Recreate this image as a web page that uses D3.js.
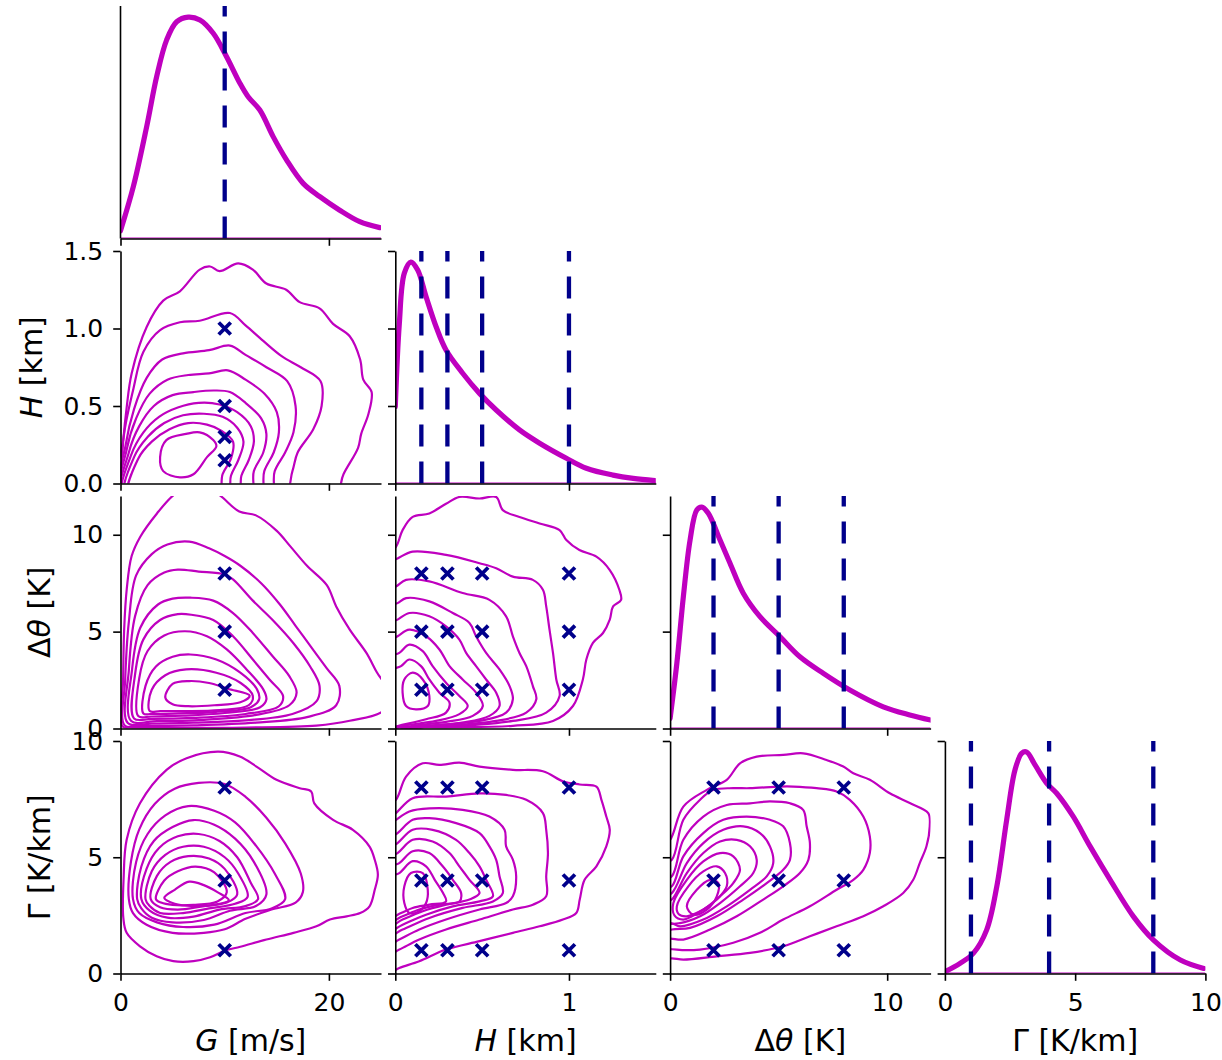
<!DOCTYPE html>
<html><head><meta charset="utf-8">
<script src="https://cdn.jsdelivr.net/npm/d3@7"></script>
<style>body{margin:0;background:#fff} svg text{font-family:"DejaVu Sans",sans-serif;}</style>
</head><body><svg id="chart" width="1222" height="1060"></svg>
<script>
// ---------------- data ----------------
const vars = ["G", "H", "dT", "Gm"];
const domainG = [0, 25], domainH = [0, 1.5], domainDT = [0, 12], domainGm = [0, 10];
const xTicksG = [0, 20], xTicksH = [0, 1], xTicksDT = [0, 10], xTicksGm = [0, 5, 10];
const xLabelsG = ["0", "20"], xLabelsH = ["0", "1"], xLabelsDT = ["0", "10"], xLabelsGm = ["0", "5", "10"];
const yTicksH = [0, 0.5, 1.0, 1.5], yTicksDT = [0, 5, 10], yTicksGm = [0, 5, 10];
const yLabelsH = ["0.0", "0.5", "1.0", "1.5"], yLabelsDT = ["0", "5", "10"], yLabelsGm = ["0", "5", "10"];
const axisTitleG = [["G", true], [" [m/s]", false]];
const axisTitleH = [["H", true], [" [km]", false]];
const axisTitleDT = [["Δ", false], ["θ", true], [" [K]", false]];
const axisTitleGm = [["Γ [K/km]", false]];

// sampled parameter values (crosses / dashed lines)
const markG = [10];
const markH = [0.15, 0.3, 0.5, 1.0];
const markDT = [2, 5, 8];
const markGm = [1, 4, 8];

// 1-D densities (relative, peak = 1)
const diagG = [[0,0.035],[1.23,0.234],[2.51,0.505],[3.47,0.731],[4.43,0.897],[5.39,0.979],[6.5,1.0],[7.62,0.987],[8.9,0.927],[10.18,0.821],[11.46,0.701],[12.25,0.64],[13.37,0.58],[14.65,0.46],[15.93,0.355],[17.53,0.249],[19.13,0.189],[21.0,0.129],[22.96,0.076],[24.88,0.049]];
const diagH = [[0,0.347],[0.023,0.72],[0.052,0.95],[0.09,1.0],[0.129,0.964],[0.177,0.844],[0.235,0.708],[0.292,0.603],[0.388,0.498],[0.485,0.407],[0.581,0.332],[0.715,0.242],[0.831,0.182],[0.985,0.114],[1.1,0.069],[1.254,0.038],[1.37,0.023],[1.495,0.013]];
const diagDT = [[0,0.046],[0.31,0.294],[0.61,0.595],[0.92,0.851],[1.23,0.987],[1.46,1.0],[1.76,0.972],[2.3,0.851],[2.76,0.746],[3.37,0.611],[4.14,0.505],[5.06,0.415],[5.98,0.324],[7.06,0.249],[8.28,0.174],[9.82,0.098],[11.04,0.061],[12.0,0.038]];
const diagGm = [[0,0.008],[0.58,0.046],[1.09,0.091],[1.6,0.196],[1.99,0.392],[2.37,0.693],[2.69,0.919],[2.95,0.995],[3.14,1.0],[3.46,0.942],[3.91,0.859],[4.29,0.814],[4.93,0.708],[5.58,0.573],[6.35,0.422],[7.24,0.257],[8.01,0.151],[9.04,0.061],[9.94,0.023]];

// 2-D density contours (outer -> inner)
const contoursGH = [
 [[0,-0.1],[0.05,0.05],[0.27,0.28],[0.59,0.49],[1.07,0.71],[2.51,1.01],[4.1,1.18],[5.7,1.24],[7.6,1.38],[8.6,1.40],[9.5,1.37],[11.3,1.42],[12.7,1.38],[14.0,1.29],[15.9,1.25],[17.2,1.17],[19.1,1.13],[20.4,1.03],[22.0,0.95],[23.0,0.80],[23.3,0.67],[24.1,0.59],[23.8,0.45],[23.1,0.32],[22.8,0.23],[21.4,0.06],[20.4,-0.1]],
 [[0.05,-0.1],[0.3,0.3],[1.2,0.6],[2.2,0.85],[3.8,0.99],[5.7,1.04],[7.6,1.05],[10.5,1.1],[12,1.02],[13.7,0.92],[15.5,0.82],[17.3,0.75],[19.2,0.66],[19.3,0.5],[18.5,0.35],[17,0.2],[16.5,0.08],[15.5,-0.1]],
 [[0.1,-0.1],[0.5,0.25],[1.3,0.48],[2.5,0.68],[4,0.8],[6,0.84],[8.5,0.86],[10.5,0.89],[12,0.83],[14,0.75],[16,0.66],[16.8,0.5],[16.6,0.33],[15.8,0.2],[14.8,0.08],[14.3,-0.1]],
 [[0.15,-0.1],[0.6,0.22],[1.5,0.42],[2.8,0.58],[4.5,0.67],[6.5,0.7],[8.5,0.71],[10.3,0.73],[12,0.67],[13.8,0.58],[15,0.46],[15.2,0.33],[14.7,0.2],[13.8,0.08],[13.3,-0.1]],
 [[0.2,-0.1],[0.8,0.2],[1.8,0.37],[3.2,0.5],[5,0.57],[7,0.59],[9,0.6],[10.5,0.59],[12,0.52],[13.5,0.42],[14,0.32],[13.7,0.2],[12.8,0.08],[12.4,-0.1]],
 [[0.3,-0.1],[1.0,0.18],[2.2,0.33],[3.7,0.43],[5.5,0.49],[7.5,0.52],[9.5,0.51],[11.2,0.46],[12.5,0.37],[12.8,0.27],[12.3,0.15],[11.6,0.05],[11.2,-0.1]],
 [[0.5,-0.1],[1.3,0.17],[2.6,0.3],[4.2,0.39],[6,0.44],[8,0.45],[9.8,0.43],[11.2,0.36],[11.8,0.27],[11.3,0.15],[10.6,0.05],[10.2,-0.1]],
 [[0.8,-0.1],[1.7,0.16],[3,0.27],[4.7,0.35],[6.5,0.39],[8.3,0.38],[9.7,0.34],[10.8,0.27],[10.6,0.16],[9.8,0.06],[9.3,-0.1]],
 [[3.8,0.17],[4.4,0.28],[6.3,0.32],[7.6,0.33],[8.9,0.28],[9.2,0.24],[8.3,0.17],[7,0.06],[5.7,0.04],[4.1,0.08]]
];
const contoursGDT = [
 [[0.2,0.1],[0.25,2.5],[0.35,5.1],[0.6,7.2],[1.07,8.9],[1.9,9.9],[3.5,11.1],[5.1,12.05],[7.3,12.8],[9.5,12.05],[11.4,11.2],[13,11.0],[15,10.2],[16.3,9.4],[17.9,8.4],[19.8,7.4],[20.7,6.3],[22,5.1],[23.6,3.9],[24.6,2.9],[25.8,1.8],[25.2,0.9],[22,0.4],[18.8,0.15],[12,0.05],[5,0.03],[1,0.04]],
 [[0.4,0.15],[0.45,2.5],[0.8,5.5],[1.5,7.9],[3.0,9.0],[4.5,9.5],[6.6,9.65],[8.5,9.3],[10,8.9],[11.5,8.4],[13.5,7.5],[15.3,6.4],[16.8,5.3],[18.3,4.2],[19.8,3.1],[21,2.2],[20.7,1.2],[18,0.6],[13,0.3],[7,0.16],[2,0.12]],
 [[0.7,0.28],[0.8,3],[1.4,5.8],[2.6,7.4],[4.2,8.05],[5.5,8.2],[7.5,8.1],[10,7.95],[10.8,7.7],[12.7,6.6],[14.6,5.6],[16.6,4.4],[18.2,3.2],[19.1,2.2],[18.8,1.4],[16.5,0.75],[12,0.42],[7,0.3],[3,0.25]],
 [[1.0,0.4],[1.1,3],[1.9,5.2],[3.6,6.4],[5,6.7],[6.7,6.75],[8.9,6.6],[10.8,5.96],[12.7,4.93],[14.6,3.73],[16.2,2.7],[16.9,1.85],[16.2,1.2],[13,0.7],[8,0.45],[3.5,0.38]],
 [[1.3,0.52],[1.4,2.8],[2.2,4.6],[3.8,5.6],[5.5,5.9],[6.8,5.87],[8.9,5.6],[10.8,4.76],[12.7,3.56],[14.3,2.53],[15.6,1.68],[15.2,1.15],[12,0.75],[7,0.55],[3,0.5]],
 [[1.7,0.64],[1.8,2.6],[2.6,4.0],[4.2,4.8],[6.2,5.02],[8.3,4.76],[10.2,4.08],[12.1,3.05],[13.7,2.02],[14.0,1.5],[13.4,1.1],[10,0.8],[6,0.66],[3,0.62]],
 [[2.2,0.77],[2.4,2.2],[3.4,3.2],[5,3.7],[6.7,3.82],[9.2,3.56],[11.5,2.88],[13.1,2.02],[13.3,1.5],[12.5,1.1],[9,0.85],[5.5,0.78],[3,0.75]],
 [[2.8,0.9],[3.0,2.0],[4.3,2.75],[6.3,3.05],[9.2,2.88],[11.5,2.36],[12.7,1.68],[12.3,1.2],[9.5,0.95],[6,0.9],[3.8,0.9]],
 [[4.3,1.6],[5,2.3],[6.6,2.45],[8.5,2.35],[10.3,2.05],[12.4,1.7],[11.5,1.35],[9,1.2],[6.5,1.15],[5,1.25]]
];
const contoursGGm = [
 [[0.27,2.4],[0.3,4.1],[0.59,5.75],[1.87,7.32],[4.42,8.76],[6.34,9.26],[9.38,9.54],[11.45,9.33],[13.05,8.9],[14.97,8.33],[17.2,7.97],[18.3,7.83],[18.6,7.32],[20.4,6.61],[22.3,6.18],[23.9,5.46],[24.4,4.89],[24.7,4.25],[24.4,3.6],[23.9,2.89],[23.0,2.6],[21.7,2.46],[20.1,2.32],[18.8,2.03],[16.6,1.75],[14.0,1.46],[11.5,1.15],[10.0,0.98],[8.6,0.7],[7.0,0.53],[5.06,0.53],[3.47,0.74],[1.87,1.17],[0.59,1.75]],
 [[0.8,3.2],[1.0,4.8],[1.8,6.2],[3.3,7.3],[5.2,7.95],[7.5,8.2],[10,8.15],[12,7.6],[14,6.7],[15.8,5.6],[17.3,4.3],[17.5,3.5],[16.8,3.05],[14.5,2.75],[12,2.35],[10,1.9],[8,1.75],[5,1.75],[2.5,2.1],[1.2,2.6]],
 [[1.2,3.2],[1.5,4.8],[2.6,6.0],[4.3,6.8],[6.5,7.2],[9,7.0],[11,6.5],[13,5.5],[14.8,4.3],[15.8,3.2],[14.5,2.8],[12,2.6],[9,2.1],[6,2.0],[3.5,2.2],[1.8,2.6]],
 [[1.6,3.2],[2.0,4.6],[3.2,5.7],[5,6.3],[7,6.6],[9,6.4],[11,5.8],[12.8,4.8],[14,3.4],[13,2.9],[10.5,2.7],[8,2.3],[5,2.2],[3,2.4],[2,2.8]],
 [[2.0,3.2],[2.5,4.5],[3.7,5.4],[5.5,5.9],[7.5,6.0],[9.5,5.7],[11.2,5.0],[12.5,3.9],[13.2,3.2],[12,2.9],[9.5,2.75],[7,2.45],[4.5,2.4],[2.8,2.7]],
 [[2.4,3.2],[3.0,4.4],[4.3,5.1],[6,5.45],[8,5.45],[10,5.0],[11.3,4.3],[12.2,3.3],[11,3.0],[8.5,2.8],[6,2.6],[3.8,2.6],[2.8,2.9]],
 [[2.9,3.2],[3.5,4.2],[4.8,4.8],[6.5,5.05],[8.5,4.95],[10,4.5],[11.2,3.4],[10.2,3.05],[8,2.9],[5.5,2.75],[3.8,2.85]],
 [[3.4,3.2],[4.2,4.0],[5.5,4.4],[7.2,4.6],[9,4.35],[10.2,3.5],[9.3,3.1],[7,2.95],[5,2.95],[3.9,3.05]],
 [[4.2,3.25],[5.2,3.6],[6.6,3.95],[8,3.8],[9.3,3.5],[10.4,3.15],[9,2.95],[7,2.9],[5.2,3.0]]
];
const contoursHDT = [
 [[-0.05,-0.3],[-0.05,9.0],[0.004,9.38],[0.042,10.24],[0.1,10.92],[0.196,11.1],[0.292,11.6],[0.369,11.95],[0.485,11.87],[0.581,11.95],[0.619,11.27],[0.715,10.92],[0.831,10.58],[0.946,10.24],[0.985,9.73],[1.06,9.21],[1.158,8.87],[1.235,8.18],[1.29,7.16],[1.3,6.64],[1.254,6.3],[1.235,5.62],[1.196,4.93],[1.138,4.42],[1.1,3.56],[1.08,2.53],[1.023,1.16],[0.908,0.39],[0.677,0.14],[0.29,0.05],[0.05,0.0]],
 [[-0.05,-0.2],[-0.05,8.5],[0.013,8.78],[0.1,9.13],[0.292,8.96],[0.485,8.53],[0.581,8.27],[0.677,7.84],[0.792,7.67],[0.85,7.16],[0.869,6.3],[0.888,5.1],[0.908,3.9],[0.927,2.53],[0.946,1.68],[0.869,0.82],[0.677,0.39],[0.388,0.14],[0.1,0.05]],
 [[-0.05,-0.2],[-0.05,7.1],[0.004,7.33],[0.062,7.67],[0.196,7.59],[0.388,6.99],[0.542,6.64],[0.638,5.79],[0.677,4.76],[0.715,3.9],[0.754,3.22],[0.792,2.19],[0.812,1.51],[0.754,0.82],[0.581,0.39],[0.292,0.14],[0.023,0.05]],
 [[-0.05,-0.2],[-0.05,6.2],[0.013,6.47],[0.062,6.73],[0.196,6.56],[0.331,5.96],[0.427,5.45],[0.465,4.76],[0.523,3.9],[0.6,3.05],[0.658,2.19],[0.677,1.51],[0.638,0.82],[0.485,0.39],[0.196,0.14]],
 [[-0.05,-0.2],[-0.05,5.3],[0.013,5.62],[0.081,5.96],[0.196,5.79],[0.292,5.27],[0.369,4.59],[0.408,3.9],[0.465,3.22],[0.523,2.53],[0.581,1.85],[0.6,1.16],[0.542,0.65],[0.388,0.31],[0.138,0.1]],
 [[-0.05,-0.1],[-0.05,4.4],[0.013,4.76],[0.081,5.1],[0.177,4.76],[0.254,4.08],[0.312,3.22],[0.388,2.53],[0.465,1.85],[0.504,1.16],[0.446,0.65],[0.292,0.34],[0.1,0.14]],
 [[-0.05,0.0],[-0.05,3.6],[0.023,3.9],[0.081,4.33],[0.158,3.99],[0.215,3.22],[0.292,2.36],[0.369,1.68],[0.417,1.16],[0.369,0.74],[0.235,0.39],[0.062,0.17]],
 [[-0.04,0.1],[-0.04,2.9],[0.033,3.22],[0.081,3.56],[0.148,3.22],[0.196,2.53],[0.254,1.85],[0.312,1.34],[0.292,0.82],[0.177,0.48],[0.052,0.22]],
 [[0.052,2.53],[0.1,2.88],[0.158,2.53],[0.196,1.68],[0.187,1.16],[0.119,0.99],[0.062,1.16],[0.042,1.85]]
];
const contoursHGm = [
 [[-0.05,0.0],[-0.05,7.2],[0.004,7.47],[0.062,8.47],[0.158,9.04],[0.254,8.97],[0.369,9.07],[0.485,8.9],[0.677,8.76],[0.85,8.7],[0.965,8.27],[1.062,8.13],[1.158,8.04],[1.187,7.47],[1.215,6.75],[1.235,6.18],[1.215,5.47],[1.158,4.61],[1.09,4.03],[1.062,3.18],[1.042,2.6],[0.965,2.32],[0.831,2.03],[0.677,1.75],[0.485,1.39],[0.292,1.03],[0.138,0.53],[0.023,0.24]],
 [[-0.05,0.8],[-0.05,6.6],[0.004,6.9],[0.1,7.54],[0.292,7.61],[0.485,7.75],[0.638,7.68],[0.754,7.47],[0.85,6.9],[0.869,6.18],[0.879,5.18],[0.869,4.18],[0.869,3.32],[0.792,2.96],[0.677,2.75],[0.485,2.32],[0.292,1.89],[0.138,1.46],[0.023,1.03]],
 [[-0.05,1.2],[-0.05,6.3],[0.004,6.61],[0.081,6.97],[0.196,7.1],[0.388,7.04],[0.542,6.75],[0.629,6.18],[0.638,5.47],[0.677,4.9],[0.696,4.18],[0.677,3.32],[0.638,3.03],[0.485,2.75],[0.292,2.32],[0.138,1.89],[0.023,1.46]],
 [[-0.05,1.6],[-0.05,5.7],[0.013,6.04],[0.1,6.61],[0.196,6.68],[0.35,6.47],[0.485,6.04],[0.542,5.47],[0.581,4.89],[0.6,4.18],[0.619,3.46],[0.562,3.1],[0.388,2.82],[0.196,2.39],[0.042,1.89]],
 [[-0.05,1.8],[-0.05,5.3],[0.013,5.61],[0.1,6.18],[0.215,6.18],[0.35,5.75],[0.427,5.18],[0.485,4.61],[0.523,4.03],[0.562,3.32],[0.485,3.1],[0.331,2.89],[0.177,2.53],[0.042,2.1]],
 [[-0.05,2.0],[-0.05,4.9],[0.013,5.18],[0.1,5.75],[0.215,5.68],[0.312,5.18],[0.369,4.61],[0.427,4.03],[0.485,3.46],[0.427,3.18],[0.292,2.96],[0.158,2.68],[0.042,2.32]],
 [[-0.05,2.2],[-0.05,4.5],[0.023,4.75],[0.1,5.26],[0.196,5.18],[0.273,4.61],[0.331,4.03],[0.379,3.46],[0.369,3.1],[0.254,2.96],[0.138,2.75],[0.042,2.46]],
 [[-0.04,2.4],[-0.04,4.1],[0.023,4.32],[0.1,4.83],[0.177,4.61],[0.227,4.03],[0.275,3.46],[0.292,3.1],[0.196,2.96],[0.1,2.82],[0.033,2.6]],
 [[0.052,3.75],[0.09,4.32],[0.158,4.32],[0.187,3.6],[0.177,3.03],[0.138,2.68],[0.081,2.6],[0.052,3.03]]
];
const contoursDTGm = [
 [[-0.4,0.6],[-0.4,5.5],[0,5.75],[0.61,7.18],[1.69,7.9],[2.61,8.33],[3.22,9.04],[3.99,9.33],[5.21,9.4],[6.13,9.47],[7.21,9.18],[7.98,8.9],[8.44,8.61],[9.2,8.33],[10.12,7.75],[11.04,7.33],[11.89,6.9],[11.96,6.33],[11.81,5.47],[11.5,4.75],[11.2,4.03],[10.74,3.46],[9.82,2.89],[8.9,2.46],[7.67,2.03],[6.44,1.6],[5.21,1.17],[3.68,0.89],[2.15,0.74],[0.61,0.6],[0.08,0.65]],
 [[-0.4,1.2],[-0.4,4.7],[0.08,4.89],[0.61,6.61],[1.38,7.47],[1.99,7.9],[2.91,7.97],[3.68,7.97],[5.06,8.04],[5.67,8.04],[6.75,7.97],[7.67,7.83],[8.28,7.47],[8.9,6.75],[9.2,5.9],[9.2,5.18],[8.9,4.46],[8.44,4.03],[7.67,3.6],[6.44,2.89],[5.21,2.32],[4.14,1.75],[2.91,1.32],[1.38,1.03],[0.31,1.03]],
 [[-0.4,1.5],[-0.4,4.0],[0.08,4.18],[0.61,5.75],[1.53,6.75],[2.61,7.25],[3.68,7.32],[4.6,7.4],[5.52,7.32],[6.13,7.04],[6.29,6.33],[6.44,5.61],[6.37,4.89],[5.98,4.32],[5.21,3.75],[4.29,3.18],[3.07,2.46],[1.84,1.89],[0.61,1.46],[0.03,1.5]],
 [[-0.4,1.7],[-0.4,3.6],[0.08,3.75],[0.61,5.04],[1.53,6.04],[2.45,6.61],[3.53,6.75],[4.6,6.61],[5.21,6.33],[5.52,5.61],[5.52,4.89],[5.21,4.46],[4.45,3.89],[3.37,3.18],[2.15,2.46],[0.92,1.96],[0.08,1.89]],
 [[-0.4,2.0],[-0.4,3.3],[0.08,3.46],[0.77,4.75],[1.53,5.61],[2.45,6.18],[3.37,6.33],[4.14,6.04],[4.6,5.47],[4.75,4.75],[4.45,4.18],[3.68,3.6],[2.61,2.89],[1.53,2.32],[0.46,2.03],[0.03,2.17]],
 [[-0.3,2.2],[-0.3,3.0],[0.08,3.18],[0.77,4.32],[1.53,5.18],[2.3,5.68],[3.07,5.75],[3.68,5.47],[3.99,4.89],[3.83,4.32],[3.22,3.75],[2.3,3.03],[1.38,2.46],[0.46,2.17]],
 [[0.15,3.03],[0.77,4.03],[1.53,4.82],[2.3,5.18],[2.91,5.04],[3.22,4.46],[2.91,3.89],[2.3,3.32],[1.53,2.75],[0.61,2.32],[0.2,2.5]],
 [[0.31,2.89],[0.84,3.75],[1.53,4.39],[2.15,4.61],[2.53,4.32],[2.61,3.75],[2.15,3.18],[1.53,2.75],[0.77,2.46],[0.4,2.55]],
 [[0.77,2.89],[1.23,3.6],[1.84,4.03],[2.22,3.89],[2.15,3.32],[1.69,2.75],[1.07,2.53]]
];

// ---------------- lookup tables built from the arrays ----------------
const info = {
  G:  {domain: domainG,  xt: xTicksG,  xl: xLabelsG,  yt: null,     yl: null,     title: axisTitleG,  marks: markG,  diag: diagG},
  H:  {domain: domainH,  xt: xTicksH,  xl: xLabelsH,  yt: yTicksH,  yl: yLabelsH,  title: axisTitleH,  marks: markH,  diag: diagH},
  dT: {domain: domainDT, xt: xTicksDT, xl: xLabelsDT, yt: yTicksDT, yl: yLabelsDT, title: axisTitleDT, marks: markDT, diag: diagDT},
  Gm: {domain: domainGm, xt: xTicksGm, xl: xLabelsGm, yt: yTicksGm, yl: yLabelsGm, title: axisTitleGm, marks: markGm, diag: diagGm}
};
const contourTable = {
  "H|G": contoursGH, "dT|G": contoursGDT, "Gm|G": contoursGGm,
  "dT|H": contoursHDT, "Gm|H": contoursHGm, "Gm|dT": contoursDTGm
};

// ---------------- layout & style ----------------
const colX = [120.5, 395.3, 670.1, 944.9];
const rowY = [6, 251, 496, 741];
const PW = 260.5, PH = 232.5;
const MAG = "#bf00bf", NAVY = "#00008b";
const FS = 25, FST = 30, TICK = 7.3, SPINE = 1.6;

const svg = d3.select("#chart");

function styleAxis(g) {
  g.attr("font-family", "DejaVu Sans, sans-serif").attr("font-size", FS);
  g.selectAll("path.domain").attr("stroke", "#000").attr("stroke-width", SPINE);
  g.selectAll(".tick line").attr("stroke", "#000").attr("stroke-width", SPINE);
  g.selectAll(".tick text").attr("fill", "#000");
}

vars.forEach((rv, i) => {
  vars.forEach((cv, j) => {
    if (j > i) return;
    const g = svg.append("g").attr("transform", `translate(${colX[j]},${rowY[i]})`);
    const cid = `clip-${i}-${j}`;
    g.append("clipPath").attr("id", cid).append("rect")
      .attr("x", 0).attr("y", 0).attr("width", PW).attr("height", PH);
    const x = d3.scaleLinear().domain(info[cv].domain).range([0, PW]);
    const yRow = d3.scaleLinear().domain(info[rv].domain).range([PH, 0]);
    const plot = g.append("g").attr("clip-path", `url(#${cid})`);

    if (i === j) {
      const yd = d3.scaleLinear().domain([0, 1.05]).range([PH, 0]);
      plot.append("line").attr("x1", 0).attr("x2", PW).attr("y1", yd(0)).attr("y2", yd(0))
        .attr("stroke", MAG).attr("stroke-width", 1.8);
      plot.append("path").datum(info[cv].diag)
        .attr("fill", "none").attr("stroke", MAG).attr("stroke-width", 5.2)
        .attr("stroke-linejoin", "round").attr("stroke-linecap", "round")
        .attr("d", d3.line().x(d => x(d[0])).y(d => yd(d[1])).curve(d3.curveCatmullRom));
      plot.selectAll("line.vm").data(info[cv].marks).join("line").attr("class", "vm")
        .attr("x1", d => x(d)).attr("x2", d => x(d)).attr("y1", PH).attr("y2", 0)
        .attr("stroke", NAVY).attr("stroke-width", 4.3).attr("stroke-dasharray", "22,15");
    } else {
      const cs = contourTable[rv + "|" + cv];
      plot.selectAll("path.ct").data(cs).join("path").attr("class", "ct")
        .attr("fill", "none").attr("stroke", MAG).attr("stroke-width", 2.2)
        .attr("d", d3.line().x(d => x(d[0])).y(d => yRow(d[1])).curve(d3.curveCatmullRomClosed.alpha(0.5)));
      const pts = [];
      info[cv].marks.forEach(a => info[rv].marks.forEach(b => pts.push([a, b])));
      g.selectAll("path.mk").data(pts).join("path").attr("class", "mk")
        .attr("transform", d => `translate(${x(d[0])},${yRow(d[1])})`)
        .attr("d", "M-6,-6L6,6M-6,6L6,-6")
        .attr("stroke", NAVY).attr("stroke-width", 3.8).attr("fill", "none");
    }

    // bottom axis
    const xl = info[cv].xl;
    const xa = d3.axisBottom(x).tickValues(info[cv].xt).tickSize(TICK).tickSizeOuter(0)
      .tickPadding(12.5).tickFormat((d, k) => i === 3 ? xl[k] : "");
    g.append("g").attr("transform", `translate(0,${PH})`).call(xa).call(styleAxis);

    // left axis
    if (i === 0) {
      g.append("line").attr("x1", 0).attr("x2", 0).attr("y1", 0).attr("y2", PH)
        .attr("stroke", "#000").attr("stroke-width", SPINE);
    } else {
      const yl = info[rv].yl;
      const ya = d3.axisLeft(yRow).tickValues(info[rv].yt).tickSize(TICK).tickSizeOuter(0)
        .tickPadding(10).tickFormat((d, k) => j === 0 ? yl[k] : "");
      g.append("g").call(ya).call(styleAxis);
    }
  });
});

// axis titles
function addTitle(sel, parts) {
  parts.forEach(p => sel.append("tspan").text(p[0]).attr("font-style", p[1] ? "italic" : "normal"));
}
vars.forEach((v, j) => {
  const t = svg.append("text").attr("x", colX[j] + PW / 2).attr("y", 1051)
    .attr("text-anchor", "middle").attr("font-size", FST).attr("fill", "#000");
  addTitle(t, info[v].title);
});
const yTitleX = [null, 41.5, 50, 50];
vars.forEach((v, i) => {
  if (i === 0) return;
  const t = svg.append("text")
    .attr("transform", `translate(${yTitleX[i]},${rowY[i] + PH / 2}) rotate(-90)`)
    .attr("text-anchor", "middle").attr("font-size", FST).attr("fill", "#000");
  addTitle(t, info[v].title);
});
</script></body></html>
